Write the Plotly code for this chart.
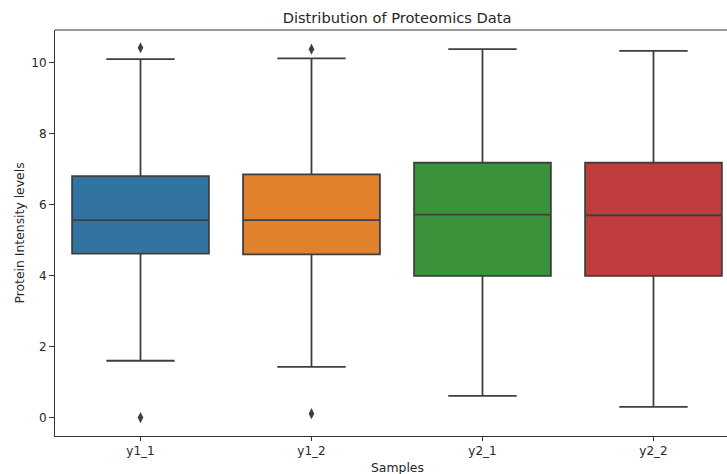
import plotly.graph_objects as go

samples = ["y1_1", "y1_2", "y2_1", "y2_2"]
q1 = [4.62, 4.60, 3.99, 3.99]
median = [5.56, 5.56, 5.72, 5.70]
q3 = [6.80, 6.85, 7.18, 7.18]
lower_whisker = [1.60, 1.43, 0.61, 0.30]
upper_whisker = [10.10, 10.12, 10.38, 10.33]
outlier_x = ["y1_1", "y1_1", "y1_2", "y1_2"]
outlier_y = [10.42, 0.00, 10.38, 0.11]
colors = ["#3274a1", "#e1812c", "#3a923a", "#c03d3e"]
yticks = [0, 2, 4, 6, 8, 10]

edge = "#3f3f3f"
fig = go.Figure()
for i, s in enumerate(samples):
    fig.add_trace(go.Box(
        x=[s], q1=[q1[i]], median=[median[i]], q3=[q3[i]],
        lowerfence=[lower_whisker[i]], upperfence=[upper_whisker[i]],
        width=0.8, whiskerwidth=0.5, fillcolor=colors[i],
        line=dict(color=edge, width=1.8), boxpoints=False,
        showlegend=False, hoverinfo="skip"))

fig.add_trace(go.Scatter(
    x=outlier_x, y=outlier_y, mode="markers",
    marker=dict(symbol="diamond-tall", size=8, color=edge),
    showlegend=False, hoverinfo="skip"))

font = "DejaVu Sans"
fig.update_layout(
    width=727, height=474,
    margin=dict(l=55, r=0, t=30, b=38, autoexpand=False),
    paper_bgcolor="white", plot_bgcolor="white",
    font=dict(family=font, size=12, color="#262626"),
    title=dict(text="Distribution of Proteomics Data", xref="paper", x=0.509, xanchor="center",
               y=1 - 18 / 474, yanchor="middle", font=dict(size=14.6, color="#262626")),
    xaxis=dict(type="category", categoryorder="array", categoryarray=samples,
               range=[-0.5, 3.43], showgrid=False, zeroline=False, automargin=False,
               showline=True, linecolor="#333333", linewidth=1,
               ticks="outside", ticklen=4, tickcolor="#333333",
               tickfont=dict(size=12)),
    yaxis=dict(range=[-0.52, 10.92], tickvals=yticks, showgrid=False, zeroline=False,
               automargin=False,
               showline=True, linecolor="#333333", linewidth=1,
               ticks="outside", ticklen=5, tickcolor="#333333",
               tickfont=dict(size=12),
               title=dict(text="Protein Intensity levels", font=dict(size=12.4), standoff=3)),
    shapes=[dict(type="line", xref="paper", yref="paper", x0=0, x1=1, y0=1, y1=1,
                 line=dict(color="#333333", width=1))],
    annotations=[dict(text="Samples", xref="paper", yref="paper", x=0.509, y=-31 / 406,
                      xanchor="center", yanchor="middle", showarrow=False,
                      font=dict(size=12.4, color="#262626"))],
)

fig.write_html("out.html", config={"displayModeBar": False},
               post_script="document.body.style.margin='0';document.body.style.overflow='hidden';")
